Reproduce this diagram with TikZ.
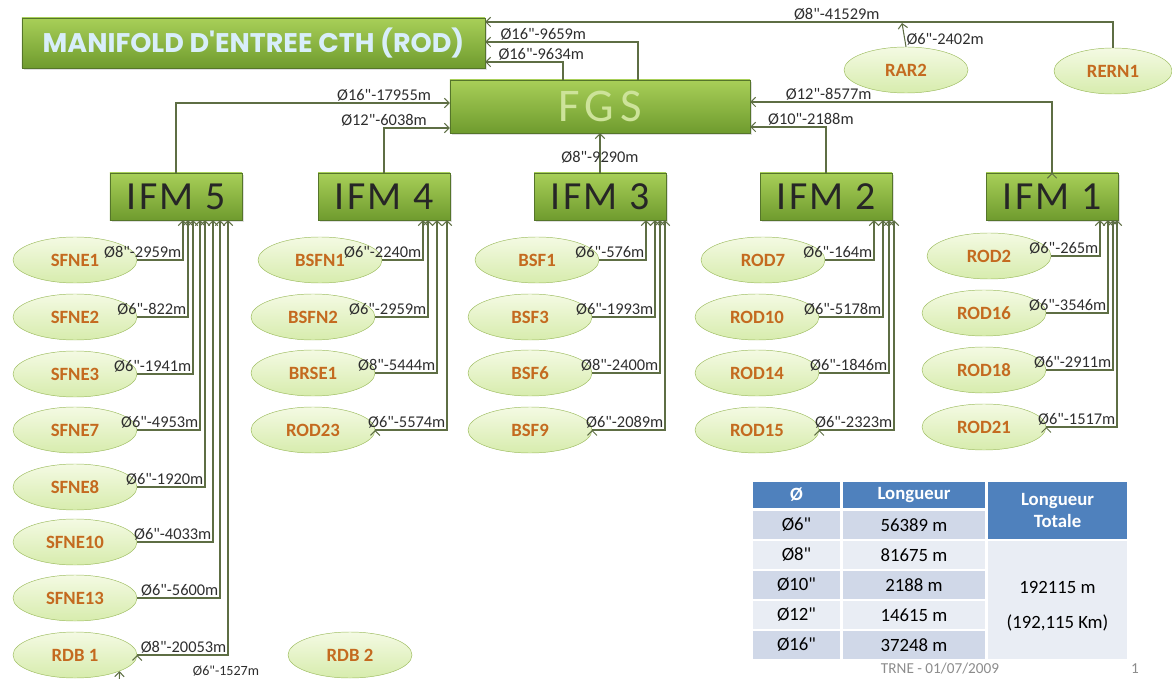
\documentclass[tikz,border=0pt]{standalone}
\usepackage{fontspec}
\setmainfont{Carlito}[Ligatures=TeXOff]
\newfontfamily\titlefont{Poppins}
\usetikzlibrary{shapes.geometric,arrows.meta,shadows}

\definecolor{boxtop}{HTML}{A8CF58}
\definecolor{boxbot}{HTML}{6F9B2E}
\definecolor{boxline}{HTML}{55752A}
\definecolor{welltop}{HTML}{F4FAE3}
\definecolor{wellbot}{HTML}{D7ECAD}
\definecolor{wellline}{HTML}{9DBC5F}
\definecolor{welltext}{HTML}{C46A1F}
\definecolor{pipecol}{HTML}{5E6E44}
\definecolor{lblcol}{HTML}{2E2E2E}
\definecolor{titleblue}{HTML}{D8EEFA}
\definecolor{fgstext}{HTML}{CDE39A}
\definecolor{thead}{HTML}{4F81BD}
\definecolor{tdark}{HTML}{D0D8E8}
\definecolor{tlight}{HTML}{E9EDF4}

\tikzset{
    greenbox/.style={rectangle, draw=boxline, top color=boxtop, bottom color=boxbot,
        drop shadow={opacity=0.25, shadow xshift=2pt, shadow yshift=-2pt}},
    ifm/.style={greenbox, minimum width=3.96cm, minimum height=1.41cm, text=black!85,
        font=\fontsize{34}{36}\selectfont\addfontfeature{LetterSpace=6}},
    well/.style={ellipse, draw=wellline, top color=welltop, bottom color=wellbot,
        minimum width=3.72cm, minimum height=1.38cm, inner sep=0pt, text=welltext,
        font=\fontsize{16}{18}\selectfont\bfseries},
    pipe/.style={draw=pipecol, line width=0.9pt, -{Straight Barb[length=4pt,width=8pt]}},
    lbl/.style={text=lblcol, font=\fontsize{14}{16}\selectfont, inner sep=1pt},
    elbow/.style={to path={-| (\tikztotarget) \tikztonodes}},
    riser/.style={to path={|- (\tikztotarget) \tikztonodes}},
    tcell/.style 2 args={rectangle, minimum width=#1, minimum height=#2, inner sep=0pt,
        font=\fontsize{16}{18}\selectfont},
}

\begin{document}
\begin{tikzpicture}[x=0.03cm, y=-0.03cm]
    \useasboundingbox (0, 0) rectangle (1172, 679);
    \clip (0, 0) rectangle (1172, 679);

    % main boxes
    \node[greenbox, minimum width=13.89cm, minimum height=1.5cm, text=titleblue,
        font=\titlefont\bfseries\fontsize{23}{25}\selectfont] at (253.5, 43)(manifold){MANIFOLD D'ENTREE CTH (ROD)};
    \node[greenbox, minimum width=9cm, minimum height=1.59cm, text=fgstext,
        font=\fontsize{40}{42}\selectfont\addfontfeature{LetterSpace=12}] at (600, 106.5)(fgs){FGS};
    \node[ifm] at (176, 196.5)(ifm5){IFM 5};
    \node[ifm] at (384, 196.5)(ifm4){IFM 4};
    \node[ifm] at (600, 196.5)(ifm3){IFM 3};
    \node[ifm] at (826, 196.5)(ifm2){IFM 2};
    \node[ifm] at (1052, 196.5)(ifm1){IFM 1};

    % wells
    \node[well] at (906, 70)(rar2){RAR2};
    \node[well, minimum width=3.54cm] at (1113, 71)(rern1){RERN1};
    \coordinate (tap) at (902, 23);

    \node[well] at (75, 260)(sfne1){SFNE1};
    \node[well] at (75, 317)(sfne2){SFNE2};
    \node[well] at (75, 374)(sfne3){SFNE3};
    \node[well] at (75, 430)(sfne7){SFNE7};
    \node[well] at (75, 487)(sfne8){SFNE8};
    \node[well] at (75, 542)(sfne10){SFNE10};
    \node[well] at (75, 598)(sfne13){SFNE13};
    \node[well] at (75, 655)(rdb1){RDB 1};
    \node[well] at (350, 655)(rdb2){RDB 2};

    \node[well] at (320, 260)(bsfn1){BSFN1};
    \node[well] at (313, 317)(bsfn2){BSFN2};
    \node[well] at (313, 373)(brse1){BRSE1};
    \node[well] at (313, 430)(rod23){ROD23};

    \node[well] at (537, 260)(bsf1){BSF1};
    \node[well] at (530, 317)(bsf3){BSF3};
    \node[well] at (530, 373)(bsf6){BSF6};
    \node[well] at (530, 430)(bsf9){BSF9};

    \node[well] at (763, 260)(rod7){ROD7};
    \node[well] at (757, 317)(rod10){ROD10};
    \node[well] at (757, 373)(rod14){ROD14};
    \node[well] at (757, 430)(rod15){ROD15};

    \node[well] at (989, 256)(rod2){ROD2};
    \node[well] at (984, 313)(rod16){ROD16};
    \node[well] at (984, 370)(rod18){ROD18};
    \node[well] at (984, 427)(rod21){ROD21};

    % trunk lines
    \path[pipe]
        (rern1.north)edge[riser] node[lbl, pos=0.72, anchor=south]{Ø8"-41529m}(manifold.east |- 0,22)
        (rar2.north)edge node[lbl, pos=0.3, anchor=west]{Ø6"-2402m}(tap)
        (fgs.north -| 638,0)edge[riser] node[lbl, pos=0.81, anchor=south]{Ø16"-9659m}(manifold.east |- 0,42)
        (fgs.north -| 563,0)edge[riser] node[lbl, pos=0.64, anchor=south]{Ø16"-9634m}(manifold.east |- 0,62)
        (ifm5.north)edge[riser] node[lbl, pos=0.88, anchor=south]{Ø16"-17955m}(fgs.west |- 0,103)
        (ifm4.north)edge[riser] node[lbl, pos=0.5, anchor=south]{Ø12"-6038m}(fgs.west |- 0,128)
        (ifm3.north)edge node[lbl, pos=0.4]{Ø8"-9290m}(fgs.south)
        (ifm2.north)edge[riser] node[lbl, pos=0.6, anchor=south]{Ø10"-2188m}(fgs.east |- 0,127)
        (ifm1.north)edge[riser] node[lbl, pos=0.87, anchor=south]{Ø12"-8577m}(fgs.east |- 0,102)
        ;

    % IFM 5 flowlines
    \path[pipe]
        (sfne1.east)edge[elbow] node[lbl, pos=0.5, anchor=south east]{Ø8"-2959m}(183,0 |- ifm5.south)
        (sfne2.east)edge[elbow] node[lbl, pos=0.5, anchor=south east]{Ø6"-822m}(188,0 |- ifm5.south)
        (sfne3.east)edge[elbow] node[lbl, pos=0.5, anchor=south east]{Ø6"-1941m}(193,0 |- ifm5.south)
        (sfne7.east)edge[elbow] node[lbl, pos=0.5, anchor=south east]{Ø6"-4953m}(200,0 |- ifm5.south)
        (sfne8.east)edge[elbow] node[lbl, pos=0.5, anchor=south east]{Ø6"-1920m}(205,0 |- ifm5.south)
        (sfne10.east)edge[elbow] node[lbl, pos=0.5, anchor=south east]{Ø6"-4033m}(213,0 |- ifm5.south)
        (sfne13.east)edge[elbow] node[lbl, pos=0.5, anchor=south east]{Ø6"-5600m}(220,0 |- ifm5.south)
        (rdb1.east)edge[elbow] node[lbl, pos=0.5, anchor=south east]{Ø8"-20053m}(228,0 |- ifm5.south)
        ;

    % IFM 4 flowlines
    \path[pipe]
        (bsfn1.east)edge[elbow] node[lbl, pos=0.5, anchor=south east]{Ø6"-2240m}(423,0 |- ifm4.south)
        (bsfn2.east)edge[elbow] node[lbl, pos=0.5, anchor=south east]{Ø6"-2959m}(428,0 |- ifm4.south)
        (brse1.east)edge[elbow] node[lbl, pos=0.5, anchor=south east]{Ø8"-5444m}(437,0 |- ifm4.south)
        (rod23.east)edge[elbow] node[lbl, pos=0.5, anchor=south east]{Ø6"-5574m}(447,0 |- ifm4.south)
        ;

    % IFM 3 flowlines
    \path[pipe]
        (bsf1.east)edge[elbow] node[lbl, pos=0.5, anchor=south east]{Ø6"-576m}(646,0 |- ifm3.south)
        (bsf3.east)edge[elbow] node[lbl, pos=0.5, anchor=south east]{Ø6"-1993m}(655,0 |- ifm3.south)
        (bsf6.east)edge[elbow] node[lbl, pos=0.5, anchor=south east]{Ø8"-2400m}(660,0 |- ifm3.south)
        (bsf9.east)edge[elbow] node[lbl, pos=0.5, anchor=south east]{Ø6"-2089m}(665,0 |- ifm3.south)
        ;

    % IFM 2 flowlines
    \path[pipe]
        (rod7.east)edge[elbow] node[lbl, pos=0.5, anchor=south east]{Ø6"-164m}(874,0 |- ifm2.south)
        (rod10.east)edge[elbow] node[lbl, pos=0.5, anchor=south east]{Ø6"-5178m}(883,0 |- ifm2.south)
        (rod14.east)edge[elbow] node[lbl, pos=0.5, anchor=south east]{Ø6"-1846m}(889,0 |- ifm2.south)
        (rod15.east)edge[elbow] node[lbl, pos=0.5, anchor=south east]{Ø6"-2323m}(894,0 |- ifm2.south)
        ;

    % IFM 1 flowlines
    \path[pipe]
        (rod2.east)edge[elbow] node[lbl, pos=0.5, anchor=south east]{Ø6"-265m}(1100,0 |- ifm1.south)
        (rod16.east)edge[elbow] node[lbl, pos=0.5, anchor=south east]{Ø6"-3546m}(1108,0 |- ifm1.south)
        (rod18.east)edge[elbow] node[lbl, pos=0.5, anchor=south east]{Ø6"-2911m}(1113,0 |- ifm1.south)
        (rod21.east)edge[elbow] node[lbl, pos=0.5, anchor=south east]{Ø6"-1517m}(1117,0 |- ifm1.south)
        ;

    % line leaving the page under RDB 1
    \coordinate (cut) at (119, 700);
    \path[pipe] (cut)edge(rdb1.-20);
    \node[lbl, font=\fontsize{12}{14}\selectfont] at (226, 671)(cutlbl){Ø6"-1527m};

    % summary table
    \node[tcell={2.61cm}{0.78cm}, fill=thead, text=white, font=\fontsize{16}{18}\selectfont\bfseries] at (796.5, 495)(hdiam){Ø};
    \node[tcell={4.26cm}{0.78cm}, fill=thead, text=white, font=\fontsize{16}{18}\selectfont\bfseries] at (914, 495)(hlen){Longueur};
    \node[tcell={4.17cm}{1.71cm}, fill=thead, text=white, align=center, font=\fontsize{16}{18}\selectfont\bfseries] at (1057.5, 510.5)(htot){Longueur\\Totale};

    \node[tcell={2.61cm}{0.84cm}, fill=tdark] at (796.5, 525)(d6){Ø6"};
    \node[tcell={4.26cm}{0.84cm}, fill=tdark] at (914, 525)(l6){56389 m};
    \node[tcell={2.61cm}{0.84cm}, fill=tlight] at (796.5, 555)(d8){Ø8"};
    \node[tcell={4.26cm}{0.84cm}, fill=tlight] at (914, 555)(l8){81675 m};
    \node[tcell={2.61cm}{0.84cm}, fill=tdark] at (796.5, 585)(d10){Ø10"};
    \node[tcell={4.26cm}{0.84cm}, fill=tdark] at (914, 585)(l10){2188 m};
    \node[tcell={2.61cm}{0.84cm}, fill=tlight] at (796.5, 615)(d12){Ø12"};
    \node[tcell={4.26cm}{0.84cm}, fill=tlight] at (914, 615)(l12){14615 m};
    \node[tcell={2.61cm}{0.84cm}, fill=tdark] at (796.5, 645)(d16){Ø16"};
    \node[tcell={4.26cm}{0.84cm}, fill=tdark] at (914, 645)(l16){37248 m};

    \node[tcell={4.17cm}{3.54cm}, fill=tlight] at (1057.5, 600)(tot){};
    \node[tcell={4.17cm}{1cm}, align=center] at (1057.5, 606)(totval){192115 m\\[12pt](192,115 Km)};

    % footer
    \node[text=black!45, font=\fontsize{13}{15}\selectfont] at (940, 669)(foot){TRNE - 01/07/2009};
    \node[text=black!45, font=\fontsize{13}{15}\selectfont] at (1135, 669)(pageno){1};
\end{tikzpicture}
\end{document}
